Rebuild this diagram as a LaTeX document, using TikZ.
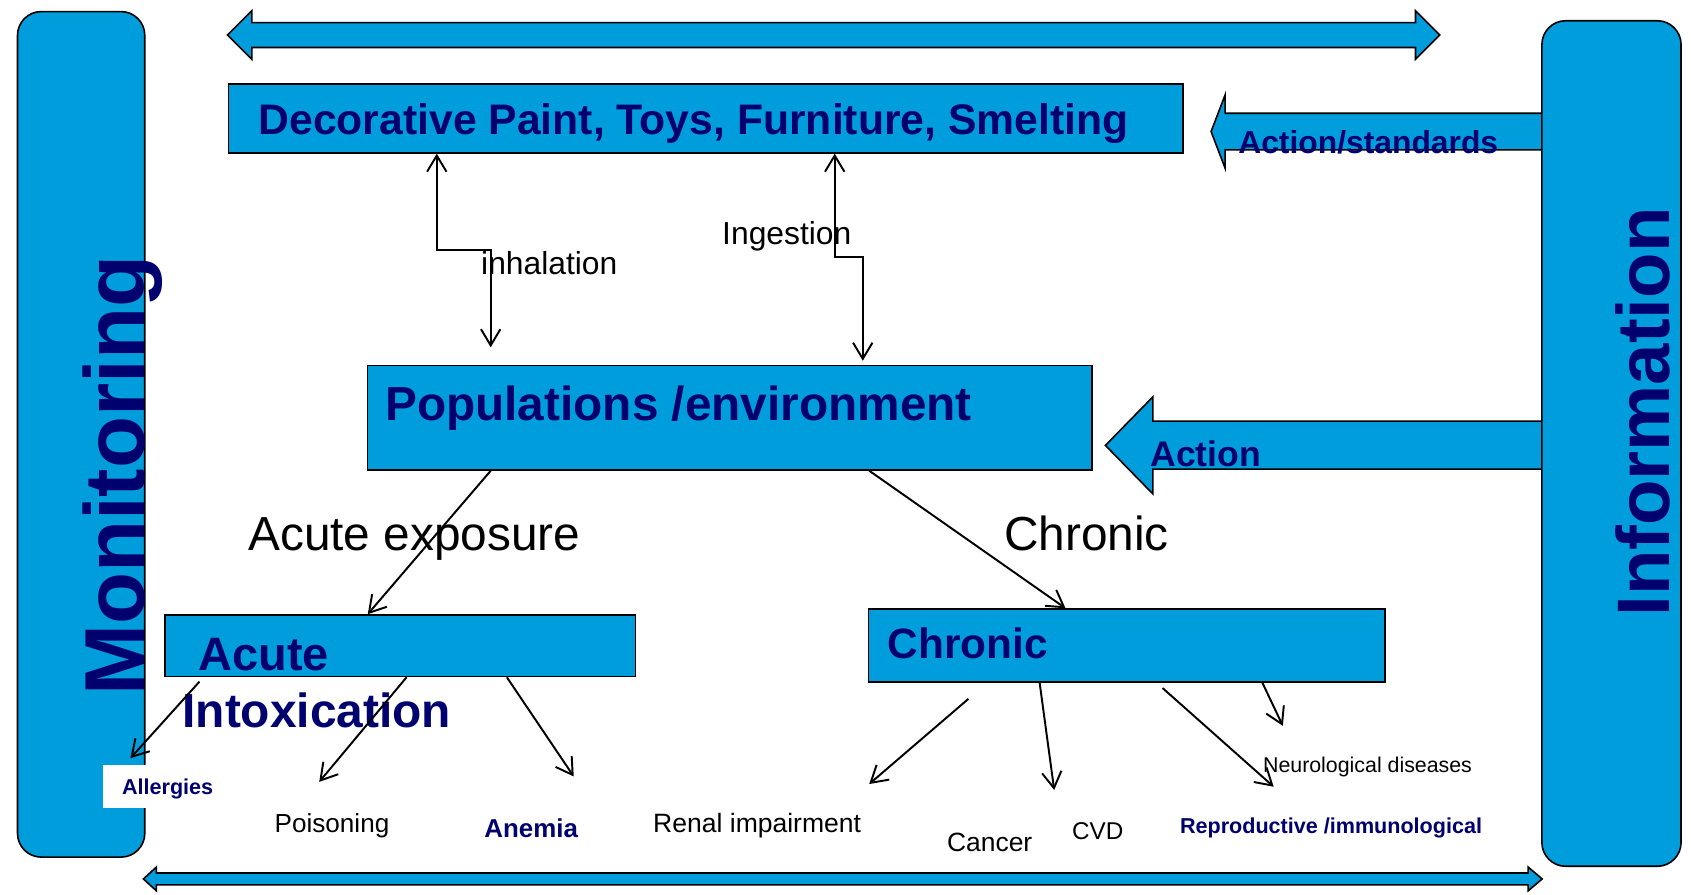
\documentclass[tikz,border=0pt]{standalone}
\usepackage{fontspec}
\setmainfont{Liberation Sans}
\usetikzlibrary{arrows.meta}
\definecolor{boxblue}{RGB}{0,157,220}
\definecolor{navy}{RGB}{0,0,110}
\newcommand{\fsz}[1]{\fontsize{#1}{#1}\selectfont}
\begin{document}
\begin{tikzpicture}[x=1pt,y=-1pt,
  >={Straight Barb[length=15pt,width=18pt]},
  bluebox/.style={draw=black, line width=1.5pt, fill=boxblue, inner sep=0pt, anchor=north west},
  roundbox/.style={bluebox, rounded corners=22pt},
  blockarrow/.style={draw=black, line width=1.5pt, fill=boxblue, line join=miter},
  conn/.style={draw=black, line width=1.8pt, ->},
  conntwo/.style={draw=black, line width=1.8pt, <->},
  navylabel/.style={text=navy, inner sep=0pt, anchor=base west},
  blacklabel/.style={text=black, inner sep=0pt, anchor=base west},
]
\useasboundingbox (0,0) rectangle (1568,829);

% block arrows (drawn first, boxes on top)
\draw[blockarrow] (211,32.5) -- (233.5,10) -- (233.5,21) -- (1312.5,21) -- (1312.5,10) -- (1335,32.5)
  -- (1312.5,55) -- (1312.5,44) -- (233.5,44) -- (233.5,55) -- cycle;
\draw[blockarrow] (1123,122) -- (1136,88) -- (1136,105) -- (1440,105) -- (1440,139) -- (1136,139) -- (1136,156) -- cycle;
\draw[blockarrow] (1025,413) -- (1069,368) -- (1069,390.5) -- (1440,390.5) -- (1440,435) -- (1069,435) -- (1069,458) -- cycle;
\draw[blockarrow] (133,815) -- (145,804) -- (145,809.5) -- (1417,809.5) -- (1417,804) -- (1430,815)
  -- (1417,826) -- (1417,820.5) -- (145,820.5) -- (145,826) -- cycle;

% boxes
\node[roundbox, minimum width=118pt, minimum height=784pt] (mon) at (15.5,10) {};
\node[roundbox, minimum width=129pt, minimum height=784pt] (info) at (1429,18.5) {};
\node[bluebox, minimum width=885pt, minimum height=64pt] (src) at (211,77) {};
\node[bluebox, minimum width=672pt, minimum height=97pt] (pop) at (340,338) {};
\node[bluebox, minimum width=436pt, minimum height=57pt] (acute) at (152.5,569.5) {};
\node[bluebox, minimum width=479pt, minimum height=67.5pt] (chron) at (804.5,564) {};

% texts in boxes and arrows
\node[navylabel, rotate=90, font=\fsz{79}\bfseries] (montext) at (134,645.5) {Monitoring};
\node[navylabel, rotate=90, font=\fsz{69}\bfseries] (infotext) at (1548,572) {Information};
\node[navylabel, font=\fsz{39.6}\bfseries] (srctext) at (239.5,125) {Decorative Paint, Toys, Furniture, Smelting};
\node[navylabel, font=\fsz{29.5}\bfseries] (stdtext) at (1148,142) {Action/standards};
\node[navylabel, font=\fsz{44.3}\bfseries] (poptext) at (357,390) {Populations /environment};
\node[navylabel, font=\fsz{33}\bfseries] (acttext) at (1066.5,433) {Action};
\node[navylabel, font=\fsz{43.5}\bfseries] (acutetext) at (184,622) {Acute};
\node[navylabel, font=\fsz{44.4}\bfseries] (intoxtext) at (169,675) {Intoxication};
\node[navylabel, font=\fsz{39.3}\bfseries] (chrontext) at (823,611) {Chronic};

% labels
\node[blacklabel, font=\fsz{29.5}] (inhlabel) at (446,254.5) {inhalation};
\node[blacklabel, font=\fsz{29.5}] (inglabel) at (669.5,227) {Ingestion};
\node[blacklabel, font=\fsz{44.3}] (acutelabel) at (230,510) {Acute exposure};
\node[blacklabel, font=\fsz{44.3}] (chronlabel) at (931,510) {Chronic};

% outcomes
\node[fill=white, anchor=north west, minimum height=40pt, inner xsep=18pt, inner ysep=0pt,
  text width=84pt, text depth=0pt, align=left, text=navy, font=\fsz{20}\bfseries] (allerg) at (95,709) {Allergies};
\node[blacklabel, font=\fsz{24.2}] (poison) at (254.5,772) {Poisoning};
\node[navylabel, font=\fsz{24}\bfseries] (anemia) at (449,777) {Anemia};
\node[blacklabel, font=\fsz{24.6}] (renal) at (605.5,772) {Renal impairment};
\node[blacklabel, font=\fsz{24.5}] (cancer) at (878,790) {Cancer};
\node[blacklabel, font=\fsz{22.5}] (cvd) at (994,778) {CVD};
\node[blacklabel, font=\fsz{19.8}] (neuro) at (1171,716.5) {Neurological diseases};
\node[navylabel, font=\fsz{20}\bfseries] (repro) at (1094,772.5) {Reproductive /immunological};

% free ends of connectors
\coordinate (inhEnd) at (455,322);
\coordinate (ingEnd) at (800,334.5);
\coordinate (aS1) at (185,632);
\coordinate (aE1) at (121,703);
\coordinate (aE2) at (296,725);
\coordinate (aE3) at (532,720);
\coordinate (cS1) at (898,648);
\coordinate (cE1) at (806,727);
\coordinate (cE2) at (977.5,732.5);
\coordinate (cS3) at (1078,638);
\coordinate (cE3) at (1181,729.5);
\coordinate (cE4) at (1189.5,673);

% connectors
\draw[conntwo] (src.south -| 405,0) |- (455,232) -- (inhEnd);
\draw[conntwo] (src.south -| 774,0) |- (800,238.5) -- (ingEnd);
\draw[conn] (pop.south -| 455,0) -- (acute.north -| 341,0);
\draw[conn] (pop.south -| 806,0) -- (chron.north -| 988,0);
\draw[conn] (aS1) -- (aE1);
\draw[conn] (acute.south -| 377,0) -- (aE2);
\draw[conn] (acute.south -| 470,0) -- (aE3);
\draw[conn] (cS1) -- (cE1);
\draw[conn] (chron.south -| 964,0) -- (cE2);
\draw[conn] (cS3) -- (cE3);
\draw[conn] (chron.south -| 1170.5,0) -- (cE4);
\end{tikzpicture}
\end{document}
